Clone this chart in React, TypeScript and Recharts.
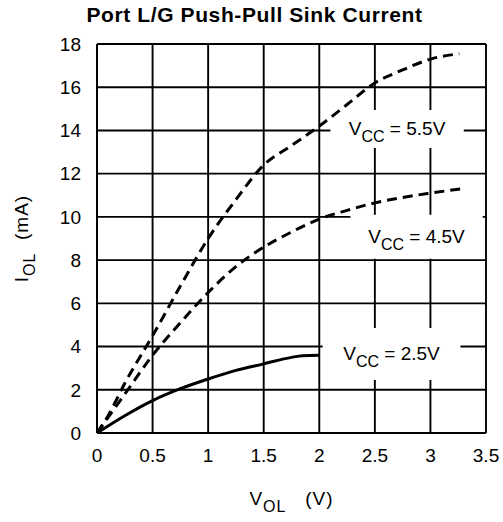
import { LineChart, Line, XAxis, YAxis, CartesianGrid, ReferenceArea } from 'recharts';

const FONT = '"Liberation Sans", Arial, Helvetica, sans-serif';

// axis ticks
const xTicks = [0, 0.5, 1, 1.5, 2, 2.5, 3, 3.5];
const yTicks = [0, 2, 4, 6, 8, 10, 12, 14, 16, 18];

// VCC = 5.5V (dashed)
const vol55 = [0, 0.1, 0.25, 0.5, 0.75, 1, 1.25, 1.5, 1.75, 2, 2.25, 2.5, 2.75, 3, 3.26];
const iol55 = [0, 0.8, 2.3, 4.5, 6.8, 9.0, 10.8, 12.4, 13.3, 14.2, 15.2, 16.2, 16.8, 17.3, 17.55];

// VCC = 4.5V (dashed)
const vol45 = [0, 0.25, 0.5, 0.75, 1, 1.25, 1.5, 1.75, 2, 2.25, 2.5, 2.75, 3, 3.28];
const iol45 = [0, 1.8, 3.6, 5.1, 6.5, 7.7, 8.6, 9.3, 9.9, 10.3, 10.65, 10.9, 11.1, 11.3];

// VCC = 2.5V (solid)
const vol25 = [0, 0.25, 0.5, 0.75, 1, 1.25, 1.5, 1.75, 1.85, 2];
const iol25 = [0, 0.8, 1.5, 2.05, 2.5, 2.9, 3.2, 3.5, 3.58, 3.6];

// curve labels and the white boxes behind them
const labelText = ['5.5V', '4.5V', '2.5V'];
const labelX1 = [2.1, 2.28, 2.03];
const labelX2 = [3.3, 3.47, 3.27];
const labelY1 = [13.19, 8.06, 2.45];
const labelY2 = [14.95, 10.1, 4.86];

const toPoints = (xs: number[], ys: number[]) => xs.map((v, i) => ({ v, i: ys[i] }));

const data55 = toPoints(vol55, iol55);
const data45 = toPoints(vol45, iol45);
const data25 = toPoints(vol25, iol25);

function VccLabel({ viewBox, value }: any) {
  if (!viewBox) return null;
  const cx = viewBox.x + viewBox.width / 2;
  const cy = viewBox.y + viewBox.height / 2;
  return (
    <text x={cx} y={cy + 6} textAnchor="middle" fontSize={19} fill="#000" fontFamily={FONT}>
      V<tspan dy={7} fontSize={16}>CC</tspan>
      <tspan dy={-7}>{'\u00a0=\u00a0' + value}</tspan>
    </text>
  );
}

function XLabel({ viewBox }: any) {
  if (!viewBox) return null;
  const cx = viewBox.x + viewBox.width / 2;
  return (
    <text x={cx} y={viewBox.y + 72} textAnchor="middle" fontSize={19} fill="#000" fontFamily={FONT} letterSpacing={1}>
      V<tspan dy={7} fontSize={16}>OL</tspan>
      <tspan dy={-7}>{'\u00a0\u00a0\u00a0(V)'}</tspan>
    </text>
  );
}

function YLabel({ viewBox }: any) {
  if (!viewBox) return null;
  const cy = viewBox.y + viewBox.height / 2;
  const x = 28;
  return (
    <text
      x={x}
      y={cy}
      transform={`rotate(-90, ${x}, ${cy})`}
      textAnchor="middle"
      fontSize={19}
      fill="#000"
      fontFamily={FONT}
      letterSpacing={1}
    >
      I<tspan dy={7} fontSize={16}>OL</tspan>
      <tspan dy={-7}>{'\u00a0\u00a0(mA)'}</tspan>
    </text>
  );
}

export default function App() {
  return (
    <div style={{ position: 'absolute', left: 0, top: 0, width: 503, height: 522, background: '#fff' }}>
      <div
        style={{
          position: 'absolute',
          left: 0,
          top: 0,
          width: 509,
          textAlign: 'center',
          fontFamily: FONT,
          fontWeight: 'bold',
          fontSize: 21,
          letterSpacing: 0.6,
          lineHeight: '30px',
          color: '#000'
        }}
      >
        Port L/G Push-Pull Sink Current
      </div>
      <LineChart width={503} height={522} margin={{ top: 44, right: 17, bottom: 49, left: 37 }}>
        <CartesianGrid stroke="#000" strokeWidth={1.9} />
        <XAxis
          type="number"
          dataKey="v"
          domain={[0, 3.5]}
          ticks={xTicks}
          interval={0}
          height={40}
          tickLine={false}
          tickMargin={10}
          axisLine={{ stroke: '#000', strokeWidth: 1.9 }}
          tick={{ fill: '#000', fontSize: 19, fontFamily: FONT }}
          label={<XLabel />}
        />
        <YAxis
          type="number"
          domain={[0, 18]}
          ticks={yTicks}
          interval={0}
          width={60}
          tickLine={false}
          tickMargin={10}
          axisLine={{ stroke: '#000', strokeWidth: 1.9 }}
          tick={{ fill: '#000', fontSize: 19, fontFamily: FONT }}
          label={<YLabel />}
        />
        {labelText.map((t, k) => (
          <ReferenceArea
            key={t}
            x1={labelX1[k]}
            x2={labelX2[k]}
            y1={labelY1[k]}
            y2={labelY2[k]}
            fill="#fff"
            fillOpacity={1}
            stroke="none"
            label={<VccLabel value={t} />}
          />
        ))}
        <Line
          data={data55}
          dataKey="i"
          type="monotone"
          stroke="#000"
          strokeWidth={3}
          strokeDasharray="10 6"
          dot={false}
          isAnimationActive={false}
        />
        <Line
          data={data45}
          dataKey="i"
          type="monotone"
          stroke="#000"
          strokeWidth={3}
          strokeDasharray="10 6"
          dot={false}
          isAnimationActive={false}
        />
        <Line
          data={data25}
          dataKey="i"
          type="monotone"
          stroke="#000"
          strokeWidth={3}
          dot={false}
          isAnimationActive={false}
        />
      </LineChart>
    </div>
  );
}
